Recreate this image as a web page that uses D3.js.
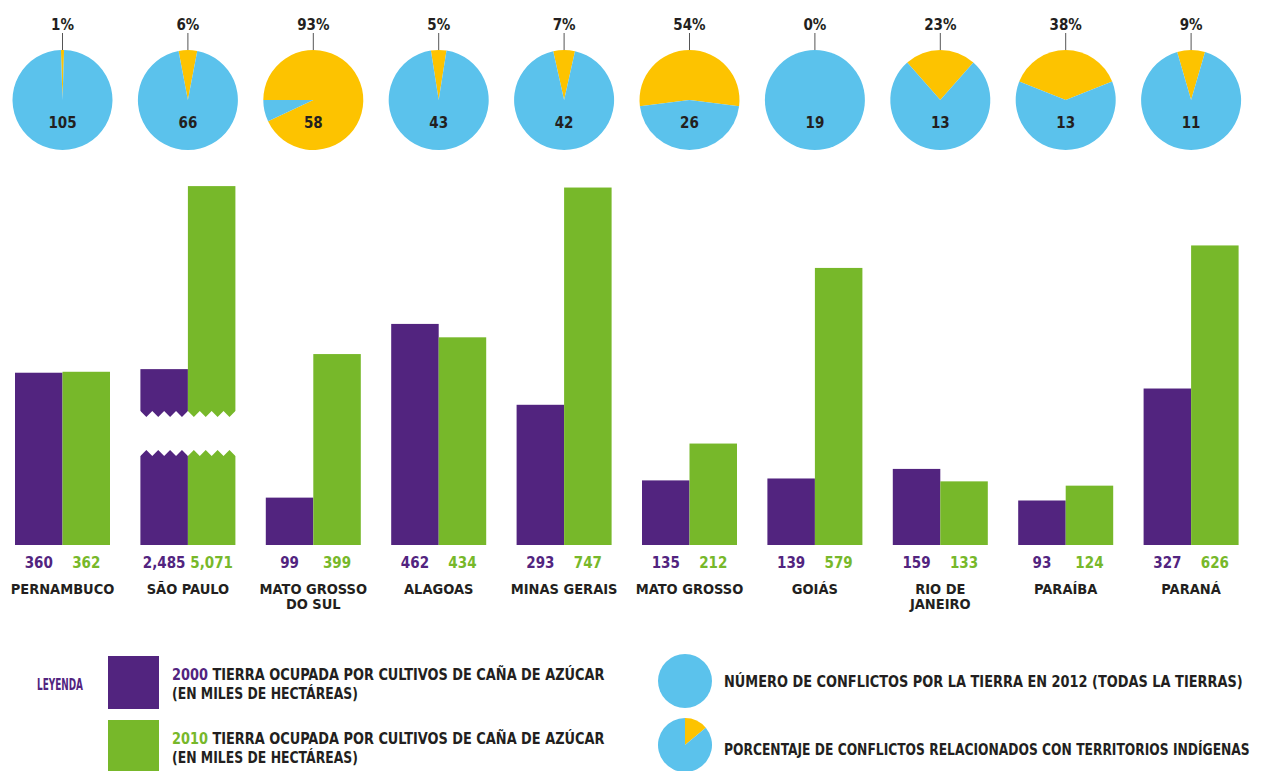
<!DOCTYPE html>
<html>
<head>
<meta charset="utf-8">
<script src="https://cdn.jsdelivr.net/npm/d3@7"></script>
<style>
  body { margin: 0; background: #fff; }
  svg text { font-family: 'Liberation Sans Narrow', 'DejaVu Sans Condensed', sans-serif; font-weight: bold; }
</style>
</head>
<body>
<svg id="svg"></svg>
<script>
var width = 1278, height = 771;

// data
var states = ['PERNAMBUCO', 'SÃO PAULO', 'MATO GROSSO|DO SUL', 'ALAGOAS', 'MINAS GERAIS',
  'MATO GROSSO', 'GOIÁS', 'RIO DE|JANEIRO', 'PARAÍBA', 'PARANÁ'];
var cane2000 = [360, 2485, 99, 462, 293, 135, 139, 159, 93, 327];
var cane2010 = [362, 5071, 399, 434, 747, 212, 579, 133, 124, 626];
var conflicts = [105, 66, 58, 43, 42, 26, 19, 13, 13, 11];
var indigenousPct = [1, 6, 93, 5, 7, 54, 0, 23, 38, 9];
var labels2000 = ['360', '2,485', '99', '462', '293', '135', '139', '159', '93', '327'];
var labels2010 = ['362', '5,071', '399', '434', '747', '212', '579', '133', '124', '626'];

var purple = '#52247f', green = '#77b82a', blue = '#5bc2ec', yellow = '#fdc300', ink = '#231f20';

var svg = d3.select('#svg')
  .attr('width', width)
  .attr('height', height);

// squeeze a text horizontally so it spans w pixels
function fitText(sel, tx, ty, w) {
  var n = sel.node().getComputedTextLength();
  sel.attr('x', 0).attr('y', 0)
    .attr('transform', 'translate(' + tx + ',' + ty + ') scale(' + (w / n) + ',1)');
  return sel;
}

var x = d3.scaleBand()
  .domain(states)
  .range([-0.2, 1253.8])
  .paddingInner(0.2424)
  .paddingOuter(0.1212);

var y = d3.scaleLinear().domain([0, 750]).range([545, 186.1]);
// bars that go off the scale are drawn on a compressed scale, with a break
var yBroken = d3.scaleLinear().domain([0, 5071]).range([545, 186.1]);
var maxV = y.domain()[1];

var half = x.bandwidth() / 2;

var groups = svg.selectAll('g.state')
  .data(states)
  .enter().append('g')
  .attr('class', 'state')
  .attr('transform', function (d) { return 'translate(' + x(d) + ',0)'; });

groups.each(function (d, i) {
  var g = d3.select(this);
  var broken = cane2010[i] > maxV || cane2000[i] > maxV;
  var sc = broken ? yBroken : y;

  g.append('rect')
    .attr('x', 0).attr('width', half)
    .attr('y', sc(cane2000[i])).attr('height', sc(0) - sc(cane2000[i]))
    .attr('fill', purple);
  g.append('rect')
    .attr('x', half).attr('width', half)
    .attr('y', sc(cane2010[i])).attr('height', sc(0) - sc(cane2010[i]))
    .attr('fill', green);

  if (broken) {
    // white gap with saw-tooth edges
    var top = 411, bot = 456, teeth = 8, tw = x.bandwidth() / teeth, amp = 6;
    var p = 'M-2 ' + (top - 1);
    for (var k = 0; k <= teeth; ++k) {
      p += ' L' + (k * tw) + ' ' + top;
      if (k < teeth) p += ' L' + (k * tw + tw / 2) + ' ' + (top + amp);
    }
    p += ' L' + (x.bandwidth() + 2) + ' ' + top;
    p += ' L' + (x.bandwidth() + 2) + ' ' + bot;
    for (var k = teeth; k >= 0; --k) {
      p += ' L' + (k * tw) + ' ' + bot;
      if (k > 0) p += ' L' + (k * tw - tw / 2) + ' ' + (bot - amp);
    }
    p += ' L-2 ' + bot + ' Z';
    g.append('path').attr('d', p).attr('fill', '#fff');
  }

  g.append('text')
    .attr('x', half / 2).attr('y', 568)
    .attr('text-anchor', 'middle')
    .attr('font-size', 15)
    .attr('fill', purple)
    .text(labels2000[i]);
  g.append('text')
    .attr('x', half * 1.5).attr('y', 568)
    .attr('text-anchor', 'middle')
    .attr('font-size', 15)
    .attr('fill', green)
    .text(labels2010[i]);

  var lines = d.split('|');
  lines.forEach(function (ln, j) {
    g.append('text')
      .attr('x', half).attr('y', 594 + j * 15)
      .attr('text-anchor', 'middle')
      .attr('font-size', 14.5)
      .attr('fill', ink)
      .text(ln);
  });

  // pie on top
  var cy = 100, r = 50;
  var pg = g.append('g').attr('transform', 'translate(' + half + ',' + cy + ')');
  var share = indigenousPct[i] / 100;
  var a = share * 2 * Math.PI;
  var start = share > 0.9 ? -Math.PI / 2 : -a / 2;
  var pie = d3.pie().sort(null).startAngle(start).endAngle(start + 2 * Math.PI);
  var arcs = pie([indigenousPct[i], 100 - indigenousPct[i]]);
  var arc = d3.arc().innerRadius(0).outerRadius(r);
  pg.selectAll('path')
    .data(arcs)
    .enter().append('path')
    .attr('d', arc)
    .attr('fill', function (s, k) { return k === 0 ? yellow : blue; });
  pg.append('line')
    .attr('x1', 0).attr('x2', 0)
    .attr('y1', -r - 17).attr('y2', -r)
    .attr('stroke', '#555').attr('stroke-width', 1);
  pg.append('text')
    .attr('x', 0).attr('y', -r - 20)
    .attr('text-anchor', 'middle')
    .attr('font-size', 15)
    .attr('fill', ink)
    .text(indigenousPct[i] + '%');
  pg.append('text')
    .attr('x', 0).attr('y', 28)
    .attr('text-anchor', 'middle')
    .attr('font-size', 15)
    .attr('fill', ink)
    .text(conflicts[i]);
});

// legend
var leg = svg.append('g');
fitText(leg.append('text').attr('font-size', 15).attr('fill', purple).text('LEYENDA'), 37, 690, 46);

var legItems = [
  { year: '2000', color: purple, y: 656 },
  { year: '2010', color: green, y: 720 }
];
legItems.forEach(function (it) {
  leg.append('rect').attr('x', 108).attr('y', it.y).attr('width', 51).attr('height', 53)
    .attr('fill', it.color);
  var t = leg.append('text').attr('font-size', 16).attr('fill', ink);
  t.append('tspan').attr('fill', it.color).text(it.year);
  t.append('tspan').text(' TIERRA OCUPADA POR CULTIVOS DE CAÑA DE AZÚCAR');
  fitText(t, 172, it.y + 24, 433);
  fitText(leg.append('text').attr('font-size', 16).attr('fill', ink).text('(EN MILES DE HECTÁREAS)'),
    172, it.y + 43, 186);
});

leg.append('circle').attr('cx', 685).attr('cy', 681).attr('r', 27).attr('fill', blue);
fitText(leg.append('text').attr('font-size', 16).attr('fill', ink)
  .text('NÚMERO DE CONFLICTOS POR LA TIERRA EN 2012 (TODAS LA TIERRAS)'), 724, 687, 519);

var lp = leg.append('g').attr('transform', 'translate(685,745)');
var lpArcs = d3.pie().sort(null)([14, 86]);
lp.selectAll('path').data(lpArcs).enter().append('path')
  .attr('d', d3.arc().innerRadius(0).outerRadius(27))
  .attr('fill', function (s, k) { return k === 0 ? yellow : blue; });
fitText(leg.append('text').attr('font-size', 16).attr('fill', ink)
  .text('PORCENTAJE DE CONFLICTOS RELACIONADOS CON TERRITORIOS INDÍGENAS'), 724, 755, 526);
</script>
</body>
</html>
